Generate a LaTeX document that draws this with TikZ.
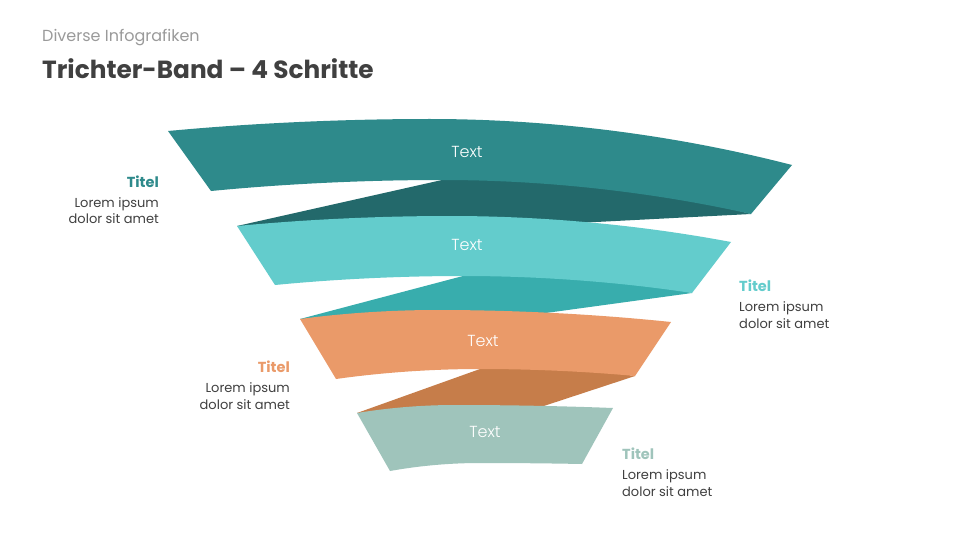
\documentclass[tikz,border=0pt]{standalone}
\usepackage{fontspec}
\setmainfont{Poppins}
\newfontfamily\lightfont{Poppins Light}
\definecolor{cA}{HTML}{2E8A8B}
\definecolor{cAs}{HTML}{23696B}
\definecolor{cB}{HTML}{63CCCC}
\definecolor{cBs}{HTML}{38ADAD}
\definecolor{cC}{HTML}{EA9A69}
\definecolor{cCs}{HTML}{C67D4A}
\definecolor{cD}{HTML}{9FC4BB}
\definecolor{txt}{HTML}{404040}
\definecolor{sub}{HTML}{9A9A9A}
\begin{document}
\begin{tikzpicture}[x=1pt,y=-1pt,
  bandtext/.style={text=white,font=\lightfont\fontsize{16}{16}\selectfont},
  ttl/.style={inner sep=0pt,font=\fontsize{14.5}{15}\selectfont\bfseries},
  body/.style={inner sep=0pt,text=txt,font=\fontsize{13}{14}\selectfont}]
\useasboundingbox (0,0) rectangle (960,540);
\fill[white] (0,0) rectangle (960,540);
% shadows
\fill[cAs] (237,226) -- (442,180) -- (600,175) -- (751,214) -- (480,228) -- cycle;
\fill[cBs] (300,319) -- (463,276) -- (600,272) -- (692,293) -- (480,322) -- cycle;
\fill[cCs] (357,413) -- (480,369) -- (560,365) -- (635,376) -- (480,427) -- cycle;
% bands
\fill[cA] (168,131) parabola bend (430,119) (792,165) -- (751,214) parabola bend (442,180) (211,191) -- cycle;
\fill[cB] (237,226) parabola bend (450,216) (731,242) -- (692,293) parabola bend (463,276) (275,285) -- cycle;
\fill[cC] (300,319) parabola bend (437,310) (671,322) -- (635,376) parabola bend (480,369) (336,379) -- cycle;
\fill[cD] (357,413) parabola bend (455,405) (613,408) -- (582,464) parabola bend (480,463) (390,471) -- cycle;
% band texts
\node[bandtext] (t1) at (467,152) {Text};
\node[bandtext] (t2) at (467,245) {Text};
\node[bandtext] (t3) at (483,341) {Text};
\node[bandtext] (t4) at (485,432) {Text};
% header
\node[inner sep=0pt,anchor=base west,text=sub,font=\fontsize{16}{16}\selectfont] (hdr) at (42,42) {Diverse Infografiken};
\node[inner sep=0pt,anchor=base west,text=txt,font=\fontsize{24.8}{25}\selectfont\bfseries] (title) at (42,79) {Trichter-Band – 4 Schritte};
% side labels
\node[ttl,text=cA,anchor=base east] (l1a) at (159,187) {Titel};
\node[body,anchor=base east] (l1b) at (159,207) {Lorem ipsum};
\node[body,anchor=base east] (l1c) at (159,223) {dolor sit amet};
\node[ttl,text=cB,anchor=base west] (l2a) at (739,291) {Titel};
\node[body,anchor=base west] (l2b) at (739,311) {Lorem ipsum};
\node[body,anchor=base west] (l2c) at (739,328) {dolor sit amet};
\node[ttl,text=cC,anchor=base east] (l3a) at (290,372) {Titel};
\node[body,anchor=base east] (l3b) at (290,392) {Lorem ipsum};
\node[body,anchor=base east] (l3c) at (290,409) {dolor sit amet};
\node[ttl,text=cD,anchor=base west] (l4a) at (622,459) {Titel};
\node[body,anchor=base west] (l4b) at (622,479) {Lorem ipsum};
\node[body,anchor=base west] (l4c) at (622,496) {dolor sit amet};
\end{tikzpicture}
\end{document}
